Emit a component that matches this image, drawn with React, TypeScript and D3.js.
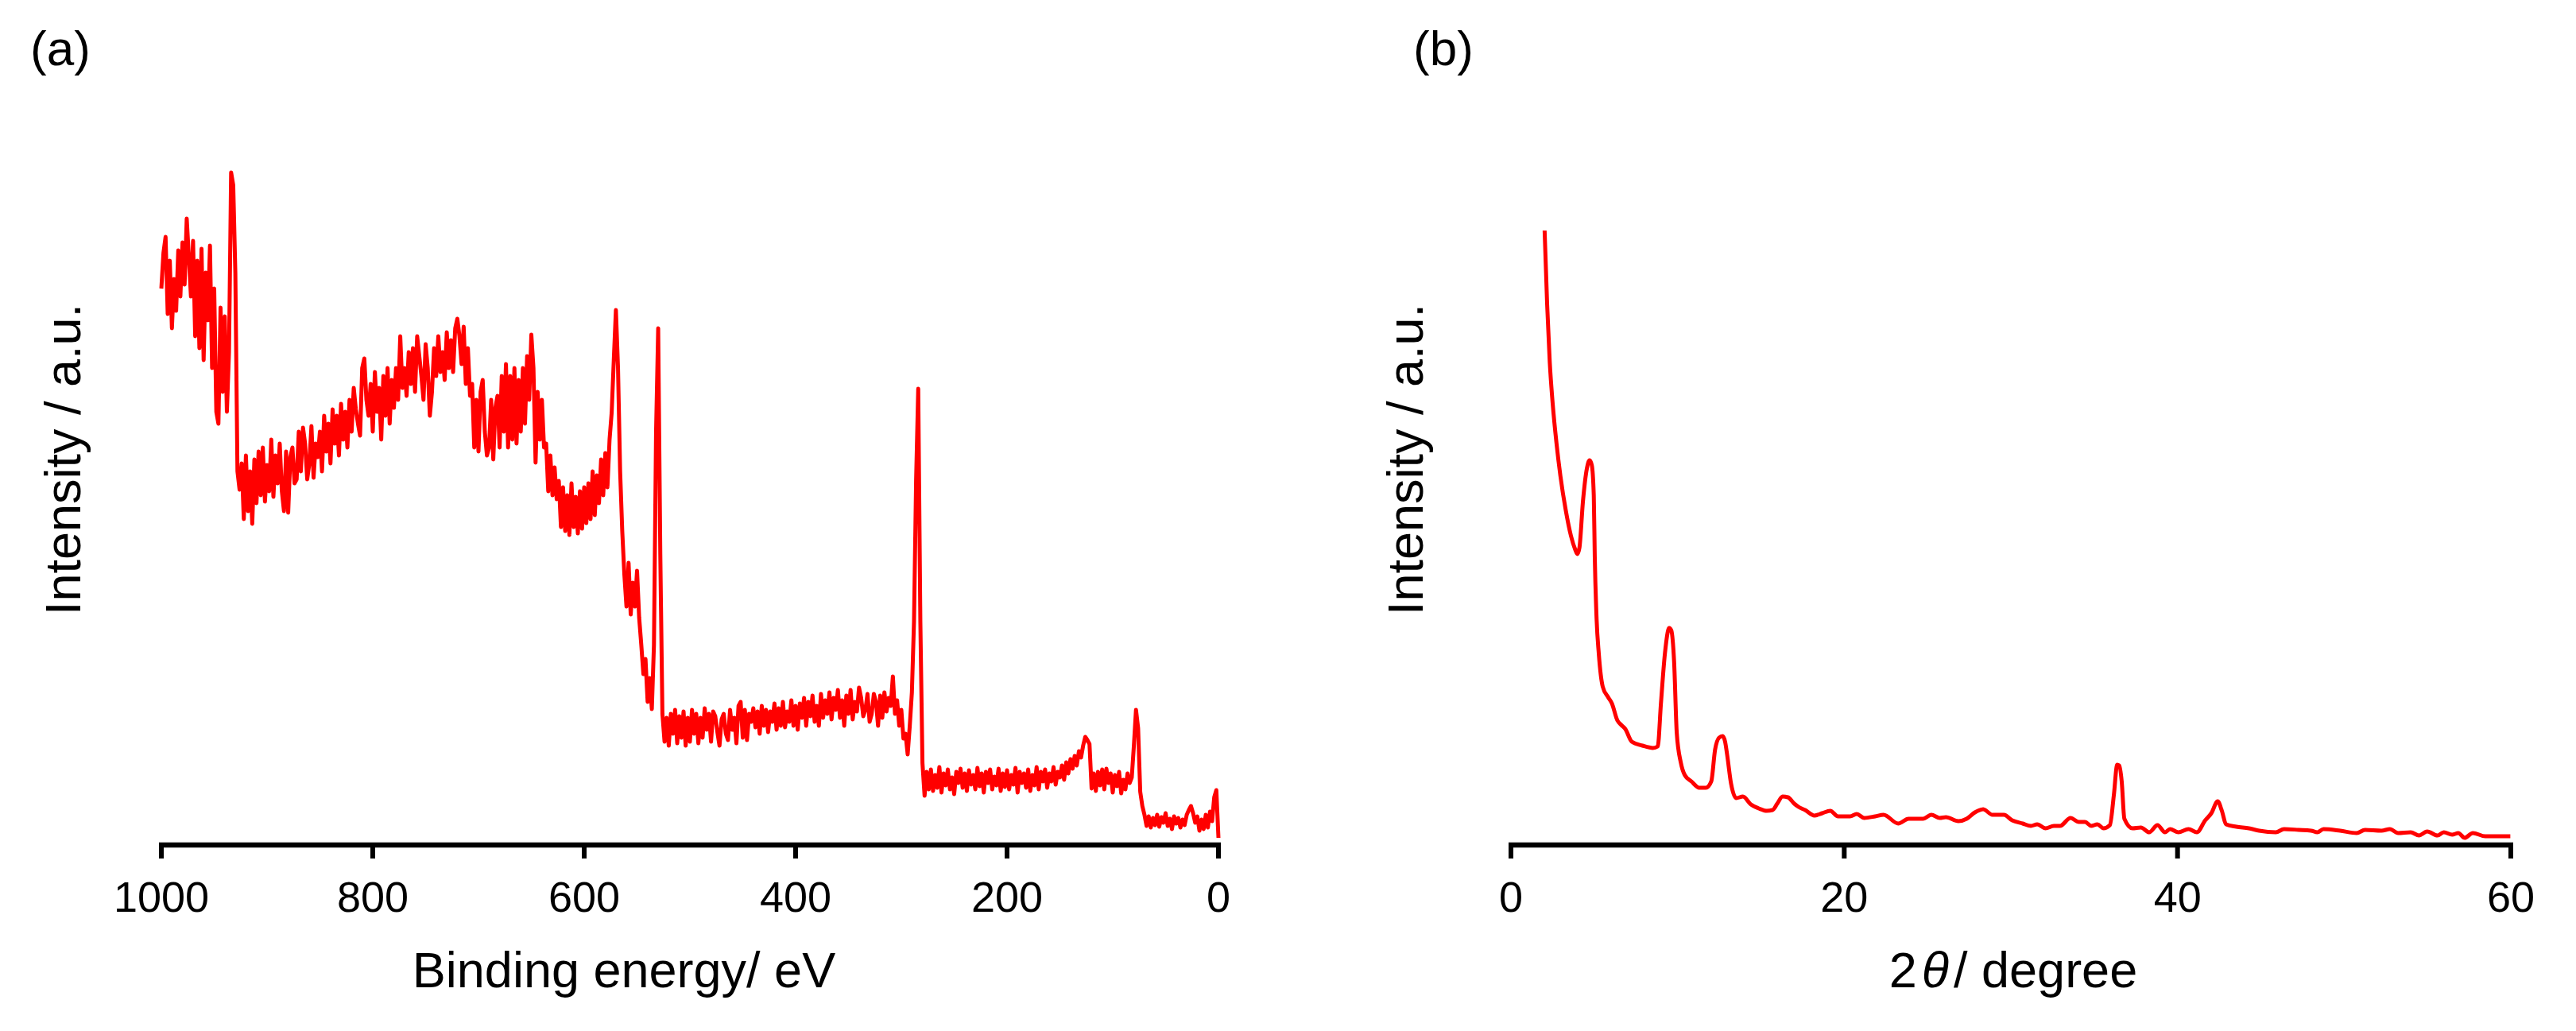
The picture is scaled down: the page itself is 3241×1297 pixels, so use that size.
import React from 'react';
import * as d3 from 'd3';

// ---------- (a) XPS survey ----------
const xpsStartEV = 1000;
const xpsStepEV = 2;
const xpsIntensity = [
  700,745,765,668,735,650,712,672,748,690,
  758,705,788,740,690,760,640,735,625,750,
  610,720,660,754,600,700,545,530,676,570,
  665,545,620,846,830,720,470,447,480,410,
  490,420,470,404,485,430,495,440,500,432,
  478,445,510,438,490,455,505,445,420,495,
  418,488,500,455,460,520,470,525,505,460,
  480,527,462,505,488,520,470,540,495,530,
  480,548,505,540,490,555,510,545,500,560,
  520,575,548,530,515,600,612,560,540,580,
  520,595,545,575,510,590,540,600,530,585,
  550,600,560,640,575,600,565,620,580,625,
  570,640,615,590,560,630,600,540,570,625,
  590,640,595,620,585,645,600,635,595,650,
  662,640,605,652,580,625,565,580,500,560,
  495,570,585,520,490,500,560,485,550,565,
  500,590,520,605,500,590,510,600,505,585,
  520,600,530,615,560,642,600,481,570,510,
  560,500,505,445,490,440,475,435,458,400,
  450,395,440,390,455,400,438,392,445,398,
  450,405,455,410,470,415,465,430,485,440,
  493,450,510,544,610,673,600,470,395,340,
  300,355,290,330,300,345,286,252,215,234,
  180,210,171,252,520,650,366,165,130,160,
  125,165,140,170,128,162,135,168,125,160,
  130,170,140,165,128,160,135,172,145,165,
  130,168,162,142,125,158,165,140,132,170,
  145,160,128,175,180,135,170,132,165,155,
  172,148,168,140,175,150,170,142,168,155,
  178,145,172,150,180,148,168,155,182,150,
  175,145,178,160,185,150,180,162,188,155,
  175,150,190,160,182,165,192,158,185,170,
  195,160,182,150,188,165,195,158,180,168,
  198,185,162,170,190,155,165,190,180,150,
  188,160,192,168,185,175,212,165,182,150,
  170,134,140,114,150,192,281,460,574,281,
  103,62,92,70,95,68,88,72,98,66,
  90,75,95,70,85,64,92,78,96,72,
  90,68,94,76,88,70,97,74,90,66,
  92,78,95,70,86,75,96,68,90,73,
  94,70,88,76,97,66,92,78,90,72,
  95,68,88,75,98,70,92,80,95,72,
  90,80,98,76,92,85,100,82,104,90,
  108,96,112,100,118,110,125,136,132,127,
  71,90,68,92,75,95,70,96,78,90,
  66,88,74,92,65,82,70,90,78,85,
  125,170,147,67,49,38,24,36,22,34,
  25,38,23,35,28,40,24,33,20,36,
  27,34,22,32,25,38,44,49,40,28,
  36,18,32,20,38,22,42,30,60,69,
  9,
];
const xpsTicks = [1000, 800, 600, 400, 200, 0];

// ---------- (b) XRD ----------
const xrdTwoTheta = [
  2.02,2.17,2.33,2.49,2.73,2.97,3.29,3.6,3.85,3.98,
  4.11,4.32,4.56,4.72,4.85,4.97,5.03,5.14,5.27,5.51,
  5.83,6.06,6.38,6.62,6.86,7.25,7.89,8.52,8.81,9.0,
  9.24,9.5,9.62,9.79,9.95,10.19,10.43,10.83,11.3,11.7,
  12.02,12.25,12.49,12.7,12.85,12.97,13.21,13.52,13.92,14.4,
  14.87,15.35,15.7,15.98,16.3,16.62,17.0,17.25,17.65,18.21,
  18.68,19.16,19.63,20.35,20.75,21.2,21.86,22.36,23.24,23.86,
  24.73,25.23,25.73,26.1,26.85,27.35,27.84,28.34,28.89,29.58,
  30.08,30.71,31.2,31.58,32.08,32.58,32.95,33.58,34.07,34.45,
  34.82,35.19,35.56,35.94,36.18,36.38,36.5,36.65,36.81,37.3,
  37.8,38.3,38.8,39.25,39.55,40.05,40.66,41.16,41.66,42.03,
  42.41,42.66,42.91,43.53,44.28,44.9,45.9,46.39,47.27,48.01,
  48.39,48.76,49.76,50.75,51.25,52.24,52.74,53.24,53.99,54.49,
  54.98,55.6,55.98,56.48,56.85,57.23,57.72,58.47,59.22,59.97,
];
const xrdIntensity = [
  773,681,607,559,506,464,421,389,372,366,
  374,432,474,484,478,440,363,284,241,199,
  186,178,157,151,146,130,125,122,124,178,
  241,273,270,231,141,104,88,80,72,72,
  80,120,135,137,130,114,77,59,61,51,
  46,43,44,52,61,60,52,48,44,37,
  40,43,36,36,39,34,36,38,27,33,
  33,38,34,35,30,33,41,45,38,38,
  31,27,24,26,21,24,24,34,29,29,
  24,26,21,25,63,101,100,80,33,21,
  22,16,25,16,20,16,20,16,31,40,
  55,43,26,23,21,18,16,20,19,18,
  16,20,18,15,19,18,20,15,16,12,
  17,12,16,13,15,9,15,11,11,11,
];
const xrdTicks = [0, 20, 40, 60];

const FONT = "'Liberation Sans', Arial, Helvetica, sans-serif";
const RED = '#ff0000';
const W = 3241;
const H = 1297;
const AXIS_Y = 1063;

const yScale = d3.scaleLinear().domain([0, 863]).range([AXIS_Y, 200]);

function XAxis({ scale, ticks }: { scale: d3.ScaleLinear<number, number>; ticks: number[] }) {
  const [r0, r1] = scale.range();
  return (
    <g>
      <line x1={Math.min(r0, r1) - 3} x2={Math.max(r0, r1) + 3} y1={AXIS_Y} y2={AXIS_Y} stroke="#000" strokeWidth={6.5} />
      {ticks.map((t) => (
        <g key={t}>
          <line x1={scale(t)} x2={scale(t)} y1={AXIS_Y} y2={AXIS_Y + 17} stroke="#000" strokeWidth={6} />
          <text x={scale(t)} y={1147} textAnchor="middle" fontFamily={FONT} fontSize={54} fill="#000">
            {t}
          </text>
        </g>
      ))}
    </g>
  );
}

export default function App() {
  const xA = d3.scaleLinear().domain([1000, 0]).range([203, 1533]);
  const xB = d3.scaleLinear().domain([0, 60]).range([1901, 3159]);

  const xpsPts: [number, number][] = xpsIntensity.map((v, i) => [xpsStartEV - i * xpsStepEV, v]);
  const xrdPts: [number, number][] = xrdTwoTheta.map((t, i) => [t, xrdIntensity[i]]);

  const lineA = d3
    .line<[number, number]>()
    .x((d) => xA(d[0]))
    .y((d) => yScale(d[1]))
    .curve(d3.curveLinear);
  const lineB = d3
    .line<[number, number]>()
    .x((d) => xB(d[0]))
    .y((d) => yScale(d[1]))
    .curve(d3.curveMonotoneX);

  return (
    <svg
      width={W}
      height={H}
      viewBox={`0 0 ${W} ${H}`}
      style={{ position: 'absolute', left: 0, top: 0, background: '#fff' }}
    >
      <rect x={0} y={0} width={W} height={H} fill="#fff" />

      {/* Panel (a) */}
      <text x={38} y={82} fontFamily={FONT} fontSize={62} fill="#000">(a)</text>
      <path d={lineA(xpsPts) || ''} fill="none" stroke={RED} strokeWidth={5} strokeLinejoin="round" />
      <XAxis scale={xA} ticks={xpsTicks} />
      <text x={785} y={1242} textAnchor="middle" fontFamily={FONT} fontSize={63} fill="#000">
        Binding energy/ eV
      </text>
      <text
        transform={`translate(101,578) rotate(-90)`}
        textAnchor="middle"
        fontFamily={FONT}
        fontSize={63}
        fill="#000"
      >
        Intensity / a.u.
      </text>

      {/* Panel (b) */}
      <text x={1778} y={82} fontFamily={FONT} fontSize={62} fill="#000">(b)</text>
      <path d={lineB(xrdPts) || ''} fill="none" stroke={RED} strokeWidth={5} strokeLinejoin="round" />
      <XAxis scale={xB} ticks={xrdTicks} />
      <text x={2533} y={1242} textAnchor="middle" fontFamily={FONT} fontSize={63} fill="#000">
        2<tspan fontStyle="italic" dx={6}>θ</tspan>
        <tspan dx={6}>/ degree</tspan>
      </text>
      <text
        transform={`translate(1790,578) rotate(-90)`}
        textAnchor="middle"
        fontFamily={FONT}
        fontSize={63}
        fill="#000"
      >
        Intensity / a.u.
      </text>
    </svg>
  );
}
